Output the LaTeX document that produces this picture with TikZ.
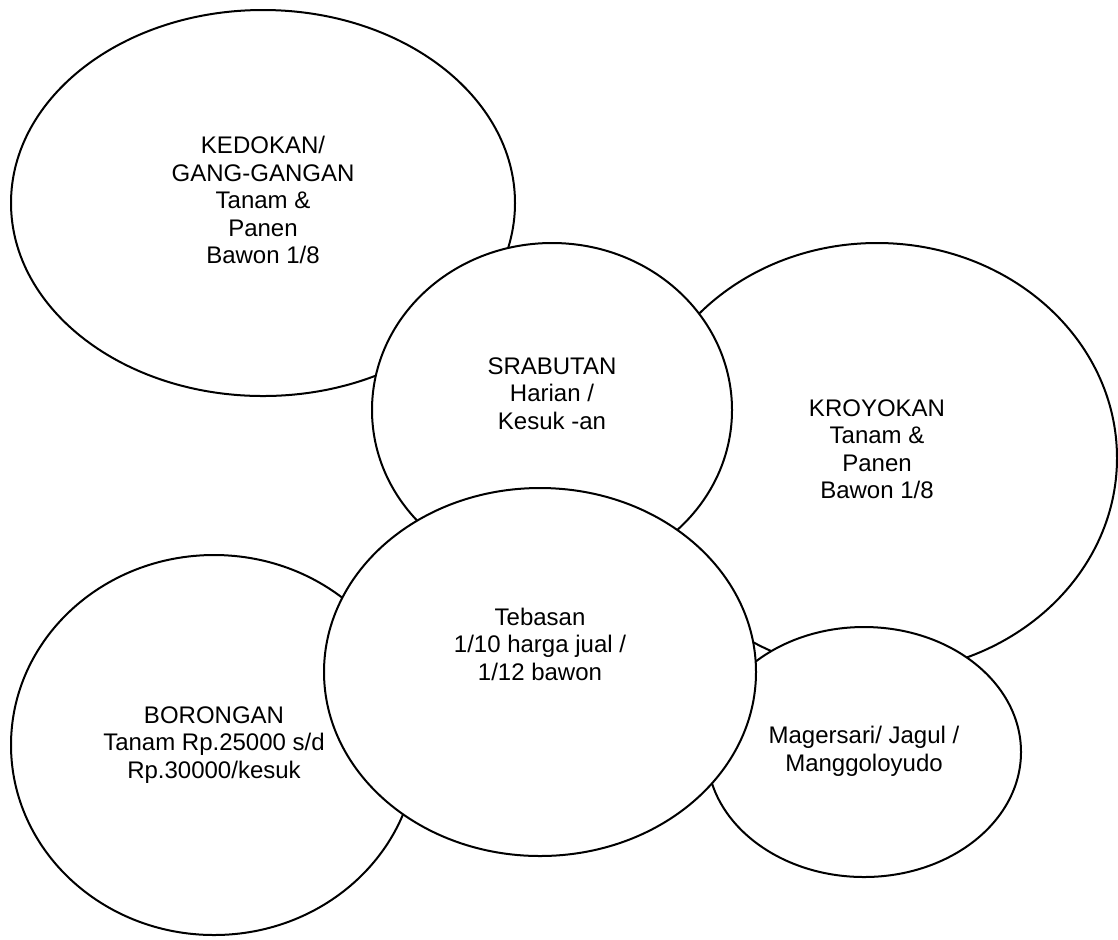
\documentclass[tikz,border=0pt]{standalone}
\usepackage{fontspec}
\setmainfont{Liberation Sans}
\usepackage{tikz}
\usetikzlibrary{shapes}
\tikzstyle{bubble}=[ellipse,draw=black,fill=white,line width=1pt,inner sep=0pt,outer sep=0pt,font=\fontsize{12}{13.75}\selectfont]
\newcommand{\lifted}[2]{\raisebox{#1}[\height][\depth]{\begin{tabular}{@{}c@{}}#2\end{tabular}}}

\begin{document}
\begin{tikzpicture}[x=0.5pt,y=-0.5pt]

  \useasboundingbox (0,0) rectangle (1118,939);

  % later bubbles lie on top of earlier ones
  \foreach \x/\y/\rx/\ry/\name/\up/\txt in {
      263/203/252/193/kedokan/0/{KEDOKAN/\\GANG-GANGAN\\Tanam \&\\Panen\\Bawon 1/8},
      877/458/240/215/kroyokan/3/{KROYOKAN\\Tanam \&\\Panen\\Bawon 1/8},
      214/745/203/190/borongan/0/{BORONGAN\\Tanam Rp.25000 s/d\\Rp.30000/kesuk},
      864/752/157/125/magersari/0/{Magersari/ Jagul /\\Manggoloyudo},
      552/410/180/167/srabutan/7/{SRABUTAN\\Harian /\\Kesuk -an},
      540/672/216/184/tebasan/12.5/{Tebasan\\1/10 harga jual /\\1/12 bawon}}
     \node[bubble, minimum width=\rx pt, minimum height=\ry pt] (\name) at (\x,\y) {\lifted{\up pt}{\txt}};

\end{tikzpicture}
\end{document}
